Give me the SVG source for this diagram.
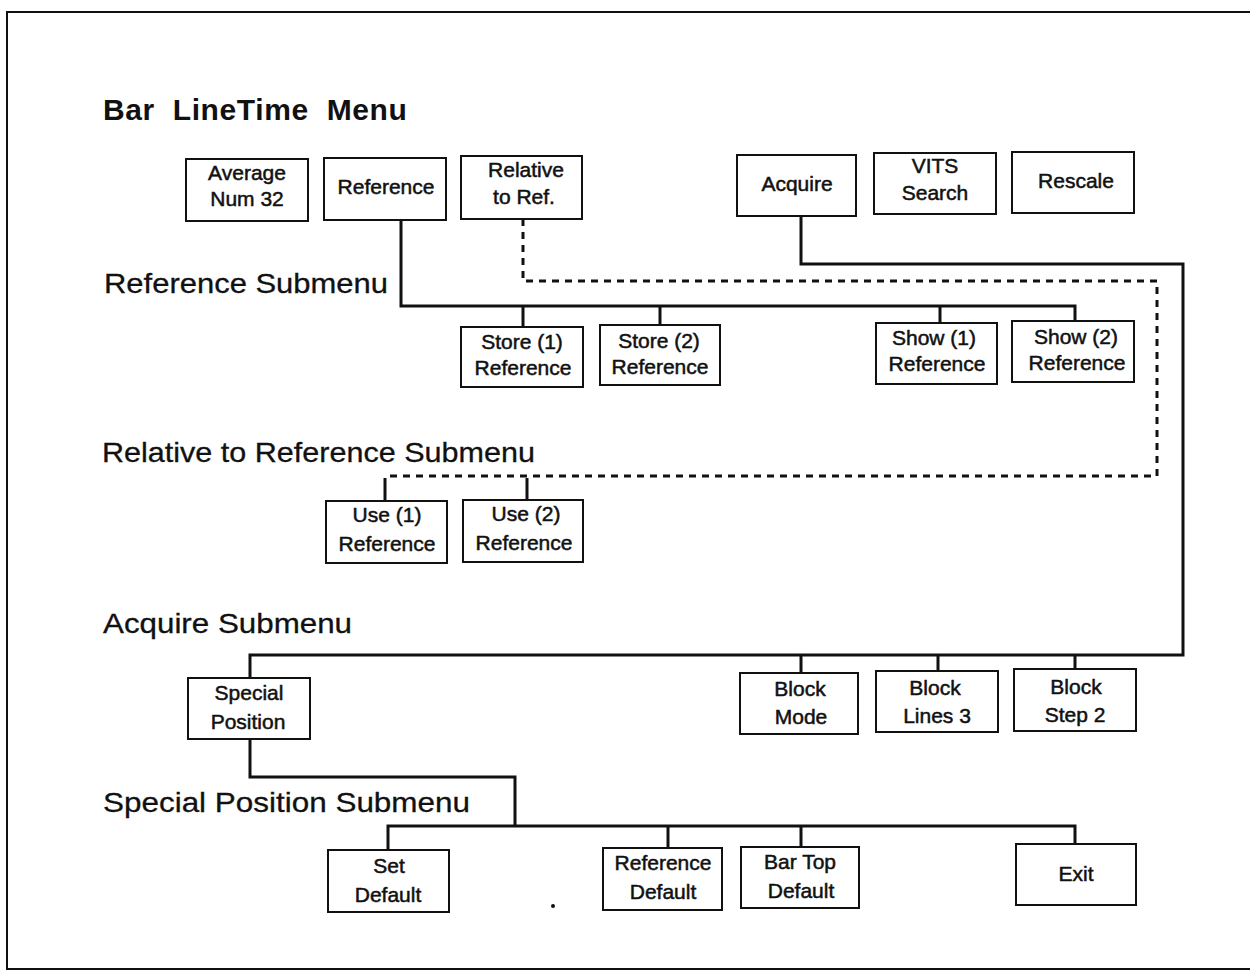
<svg xmlns="http://www.w3.org/2000/svg" width="1250" height="973" viewBox="0 0 1250 973">
  <style>
    .box { fill: #fff; stroke: #111; stroke-width: 2; }
    .lbl { font-family: "Liberation Sans", Arial, sans-serif; font-size: 21px; fill: #111; stroke: #111; stroke-width: 0.5; text-anchor: middle; }
    .hdr { font-family: "Liberation Sans", Arial, sans-serif; font-size: 28px; fill: #111; stroke: #111; stroke-width: 0.3; }
    .title { font-family: "Liberation Sans", Arial, sans-serif; font-size: 30px; font-weight: bold; fill: #111; word-spacing: 9px; letter-spacing: 0.6px; }
    .wire { fill: none; stroke: #111; stroke-width: 3; stroke-linejoin: miter; }
    .dash { fill: none; stroke: #111; stroke-width: 3; stroke-dasharray: 7 6; }
    .frame { fill: none; stroke: #111; stroke-width: 2; }
  </style>
  <rect width="1250" height="973" fill="#fff"/>
  <!-- page frame -->
  <path class="frame" d="M1250 12 L7 12 L7 969 L1250 969"/>

  <!-- headings -->
  <text class="title" x="103" y="120">Bar LineTime Menu</text>
  <text class="hdr" x="104" y="293" textLength="284" lengthAdjust="spacingAndGlyphs">Reference Submenu</text>
  <text class="hdr" x="102" y="462" textLength="433" lengthAdjust="spacingAndGlyphs">Relative to Reference Submenu</text>
  <text class="hdr" x="103" y="633" textLength="249" lengthAdjust="spacingAndGlyphs">Acquire Submenu</text>
  <text class="hdr" x="103" y="812" textLength="367" lengthAdjust="spacingAndGlyphs">Special Position Submenu</text>

  <!-- connectors -->
  <g id="connectors">
    <path class="wire" d="M401 220 V306 H1075 V322"/>
    <path class="wire" d="M523 306 V327"/>
    <path class="wire" d="M660 306 V325"/>
    <path class="wire" d="M940 306 V323"/>
    <path class="dash" d="M523 219 V281 H1157 V476 H385"/>
    <path class="wire" d="M385 478 V501"/>
    <path class="wire" d="M527 478 V500"/>
    <path class="wire" d="M801 216 V264 H1183 V655 H250 V678"/>
    <path class="wire" d="M801 655 V673"/>
    <path class="wire" d="M938 655 V671"/>
    <path class="wire" d="M1075 655 V669"/>
    <path class="wire" d="M250 739 V777 H515 V826"/>
    <path class="wire" d="M388 850 V826 H1075 V844"/>
    <path class="wire" d="M668 826 V848"/>
    <path class="wire" d="M801 826 V847"/>
  </g>

  <!-- main menu -->
  <g id="average">
    <rect class="box" x="186" y="159" width="122" height="62"/>
    <text class="lbl" x="247" y="180">Average</text>
    <text class="lbl" x="247" y="206">Num 32</text>
  </g>
  <g id="reference">
    <rect class="box" x="324" y="158" width="122" height="62"/>
    <text class="lbl" x="386" y="194">Reference</text>
  </g>
  <g id="relative">
    <rect class="box" x="461" y="156" width="121" height="63"/>
    <text class="lbl" x="526" y="177">Relative</text>
    <text class="lbl" x="524" y="204">to Ref.</text>
  </g>
  <g id="acquire">
    <rect class="box" x="737" y="155" width="119" height="61"/>
    <text class="lbl" x="797" y="191">Acquire</text>
  </g>
  <g id="vits">
    <rect class="box" x="874" y="153" width="122" height="61"/>
    <text class="lbl" x="935" y="173">VITS</text>
    <text class="lbl" x="935" y="200">Search</text>
  </g>
  <g id="rescale">
    <rect class="box" x="1012" y="152" width="122" height="61"/>
    <text class="lbl" x="1076" y="188">Rescale</text>
  </g>

  <!-- reference submenu -->
  <g id="store1">
    <rect class="box" x="461" y="327" width="122" height="60"/>
    <text class="lbl" x="522" y="349">Store (1)</text>
    <text class="lbl" x="523" y="375">Reference</text>
  </g>
  <g id="store2">
    <rect class="box" x="600" y="325" width="120" height="60"/>
    <text class="lbl" x="659" y="348">Store (2)</text>
    <text class="lbl" x="660" y="374">Reference</text>
  </g>
  <g id="show1">
    <rect class="box" x="876" y="323" width="121" height="61"/>
    <text class="lbl" x="934" y="345">Show (1)</text>
    <text class="lbl" x="937" y="371">Reference</text>
  </g>
  <g id="show2">
    <rect class="box" x="1012" y="321" width="122" height="61"/>
    <text class="lbl" x="1076" y="344">Show (2)</text>
    <text class="lbl" x="1077" y="370">Reference</text>
  </g>

  <!-- relative to reference submenu -->
  <g id="use1">
    <rect class="box" x="326" y="501" width="121" height="62"/>
    <text class="lbl" x="387" y="522">Use (1)</text>
    <text class="lbl" x="387" y="551">Reference</text>
  </g>
  <g id="use2">
    <rect class="box" x="463" y="500" width="120" height="62"/>
    <text class="lbl" x="526" y="521">Use (2)</text>
    <text class="lbl" x="524" y="550">Reference</text>
  </g>

  <!-- acquire submenu -->
  <g id="special">
    <rect class="box" x="188" y="678" width="122" height="61"/>
    <text class="lbl" x="249" y="700">Special</text>
    <text class="lbl" x="248" y="729">Position</text>
  </g>
  <g id="blockmode">
    <rect class="box" x="740" y="673" width="118" height="61"/>
    <text class="lbl" x="800" y="696">Block</text>
    <text class="lbl" x="801" y="724">Mode</text>
  </g>
  <g id="blocklines">
    <rect class="box" x="876" y="671" width="122" height="61"/>
    <text class="lbl" x="935" y="695">Block</text>
    <text class="lbl" x="937" y="723">Lines 3</text>
  </g>
  <g id="blockstep">
    <rect class="box" x="1014" y="669" width="122" height="62"/>
    <text class="lbl" x="1076" y="694">Block</text>
    <text class="lbl" x="1075" y="722">Step 2</text>
  </g>

  <!-- special position submenu -->
  <g id="setdefault">
    <rect class="box" x="328" y="850" width="121" height="62"/>
    <text class="lbl" x="389" y="873">Set</text>
    <text class="lbl" x="388" y="902">Default</text>
  </g>
  <g id="refdefault">
    <rect class="box" x="603" y="848" width="119" height="62"/>
    <text class="lbl" x="663" y="870">Reference</text>
    <text class="lbl" x="663" y="899">Default</text>
  </g>
  <g id="bartop">
    <rect class="box" x="741" y="847" width="118" height="61"/>
    <text class="lbl" x="800" y="869">Bar Top</text>
    <text class="lbl" x="801" y="898">Default</text>
  </g>
  <g id="exit">
    <rect class="box" x="1016" y="844" width="120" height="61"/>
    <text class="lbl" x="1076" y="881">Exit</text>
  </g>

  <circle cx="553" cy="906" r="2" fill="#111"/>
</svg>
